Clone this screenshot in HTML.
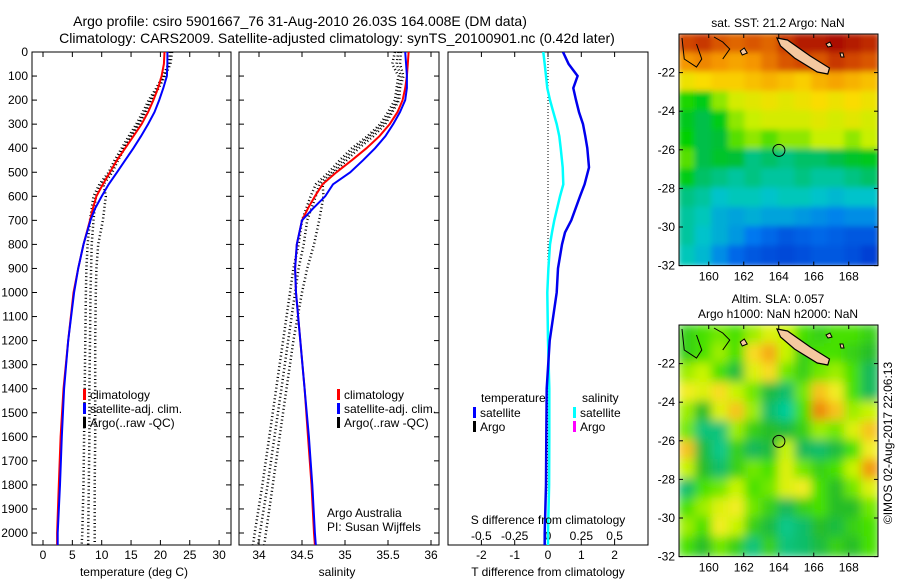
<!DOCTYPE html>
<html><head><meta charset="utf-8">
<style>
html,body{margin:0;padding:0;background:#fff;}
svg{display:block;font-family:"Liberation Sans",sans-serif;}
text{fill:#000;}
</style></head>
<body>
<svg id="fig" width="900" height="580" viewBox="0 0 900 580" xmlns="http://www.w3.org/2000/svg">
<defs>
<clipPath id="cp1"><rect x="32" y="52" width="199" height="493"/></clipPath>
<clipPath id="cp2"><rect x="239" y="52" width="200" height="493"/></clipPath>
<clipPath id="cp3"><rect x="448" y="52" width="200" height="493"/></clipPath>
<clipPath id="cpm1"><rect x="679" y="34" width="199" height="232"/></clipPath>
<clipPath id="cpm2"><rect x="679" y="325" width="199" height="232"/></clipPath>
<filter id="blur1" x="-5%" y="-5%" width="110%" height="110%"><feGaussianBlur stdDeviation="3"/></filter>
<filter id="blur2" x="-5%" y="-5%" width="110%" height="110%"><feGaussianBlur stdDeviation="5"/></filter>
</defs>
<text x="300" y="26" font-size="14" text-anchor="middle">Argo profile: csiro 5901667_76 31-Aug-2010 26.03S 164.008E (DM data)</text>
<text x="337" y="43" font-size="14" text-anchor="middle">Climatology: CARS2009. Satellite-adjusted climatology: synTS_20100901.nc (0.42d later)</text>
<g id="g1"></g>
<g id="g2"></g>
<g id="g3"></g>
<g id="m1"></g>
<g id="m2"></g>
<text transform="translate(892,443) rotate(-90)" font-size="12" text-anchor="middle">©IMOS 02-Aug-2017 22:06:13</text>
</svg>
<script>
// ---------- data ----------
const climDepth = [0,50,100,150,200,250,300,350,400,450,500,550,600,650,700,800,900,1000,1200,1400,1600,1800,2000,2050];
const climT = [20.7,20.6,20.2,19.6,18.8,17.9,16.8,15.4,14.0,12.6,11.4,10.2,9.1,8.5,8.0,6.9,6.0,5.2,4.3,3.5,3.0,2.7,2.4,2.4];
const satT  = [21.2,21.2,21.1,20.5,19.8,19.0,17.9,16.7,15.4,14.0,12.6,11.2,10.0,8.9,8.1,6.9,6.0,5.3,4.3,3.6,3.2,2.9,2.5,2.5];
const climS = [35.74,35.73,35.72,35.70,35.67,35.61,35.52,35.40,35.25,35.08,34.90,34.74,34.65,34.57,34.50,34.44,34.42,34.43,34.48,34.53,34.57,34.61,34.64,34.65];
const satS  = [35.70,35.71,35.72,35.72,35.70,35.64,35.56,35.47,35.35,35.21,35.06,34.86,34.77,34.63,34.50,34.44,34.42,34.43,34.48,34.53,34.58,34.62,34.65,34.66];
const argoDepth = [0,50,100,150,200,250,300,350,400,450,500,550,600,700,800,900,1000,1200,1400,1600,1800,2000,2050];
const argoT1 = [21.6,21.4,20.4,19.3,18.0,17.0,15.9,14.6,13.4,12.2,11.2,9.6,8.6,8.0,7.6,7.4,7.3,7.2,7.1,7.0,6.9,6.7,6.6];
const argoT2 = [21.8,21.5,20.6,19.5,18.3,17.3,16.2,14.9,13.7,12.5,11.5,9.9,9.0,8.6,8.3,8.2,8.1,8.0,7.9,7.9,7.8,7.7,7.7];
const argoT3 = [22.0,21.7,20.8,19.7,18.5,17.5,16.4,15.1,13.9,12.8,11.8,10.3,10.7,10.2,9.4,9.1,9.0,8.9,8.9,8.9,8.8,8.8,8.8];
const argoS1 = [35.58,35.55,35.62,35.60,35.58,35.50,35.41,35.26,35.08,34.94,34.81,34.66,34.60,34.50,34.46,34.40,34.36,34.28,34.20,34.12,34.04,33.95,33.93];
const argoS2 = [35.62,35.60,35.65,35.62,35.61,35.53,35.44,35.29,35.12,34.98,34.85,34.70,34.66,34.56,34.52,34.46,34.42,34.34,34.26,34.18,34.10,34.01,33.99];
const argoS3 = [35.65,35.64,35.68,35.64,35.63,35.55,35.47,35.33,35.16,35.02,34.88,34.74,34.75,34.70,34.64,34.56,34.50,34.40,34.32,34.24,34.16,34.08,34.06];
const diffDepth = [0,50,100,150,200,250,300,350,400,480,550,600,700,750,800,900,1000,1200,1400,1600,1800,2000,2050];
const diffT = [0.45,0.62,0.89,0.76,0.84,0.93,1.05,1.12,1.18,1.23,1.10,0.96,0.70,0.51,0.42,0.30,0.26,0.05,-0.04,-0.05,-0.06,-0.10,-0.10];
const diffS = [-0.035,-0.025,-0.015,-0.005,0.015,0.04,0.065,0.085,0.095,0.11,0.115,0.09,0.047,0.03,0.015,0.003,-0.005,0.0,0.01,0.01,0.008,0.0,0.0];
const tTicks = [0,5,10,15,20,25,30];
const sTicks = [34,34.5,35,35.5,36];
const dTTicks = [-2,-1,0,1,2];
const dSTicks = ["-0.5","-0.25","0","0.25","0.5"];
const depthTicks = [0,100,200,300,400,500,600,700,800,900,1000,1100,1200,1300,1400,1500,1600,1700,1800,1900,2000];
const lonTicks = [160,162,164,166,168];
const latTicks = [22,24,26,28,30,32];
const sstGrid = [
[23.5,23.6,23.4,23.3,23.4,23.3,23.6,23.8,23.8,23.9,23.8,23.7],
[23.0,23.1,23.0,22.9,23.0,23.2,23.4,23.5,23.4,23.6,23.5,23.4],
[22.4,22.5,22.6,22.6,22.7,22.8,22.7,22.6,22.8,22.9,22.8,22.7],
[21.8,21.6,22.0,22.2,22.3,22.4,22.3,22.4,22.5,22.4,22.5,22.4],
[21.5,21.2,21.6,22.0,22.1,22.2,22.2,22.2,22.3,22.2,22.3,22.2],
[21.7,21.2,21.3,21.9,22.0,21.9,22.0,22.0,22.1,22.1,22.0,22.1],
[21.9,21.2,21.4,21.3,21.0,21.1,21.0,21.1,21.1,21.2,21.4,21.5],
[21.6,21.1,21.0,20.9,21.0,20.9,20.9,21.0,20.9,20.9,21.0,21.1],
[21.0,20.9,20.7,20.8,20.8,20.7,20.8,20.8,20.7,20.6,20.7,20.7],
[20.9,20.8,20.5,20.4,20.5,20.4,20.4,20.3,20.2,20.1,20.2,20.2],
[20.9,20.7,20.5,20.3,20.0,19.8,19.6,19.7,19.8,19.7,19.6,19.6],
[20.8,20.6,20.2,19.8,19.6,19.5,19.4,19.5,19.6,19.6,19.5,19.3]];
const slaGrid = [
[0.02,0.03,0.04,0.03,0.05,0.07,0.06,0.03,0.02,0.03,0.03,0.02],
[0.02,0.03,0.05,0.03,0.09,0.11,0.06,0.02,0.03,0.03,0.02,0.01],
[0.05,0.06,0.03,0.00,0.07,0.09,0.04,0.02,0.04,0.05,0.03,-0.01],
[0.08,0.07,0.09,0.06,0.04,0.00,-0.02,0.04,0.10,0.08,0.03,-0.01],
[0.05,0.01,0.07,0.10,0.05,-0.02,-0.05,0.03,0.13,0.10,0.05,0.06],
[0.04,-0.03,-0.03,0.05,0.02,0.01,0.00,0.02,0.05,0.04,0.07,0.10],
[0.10,0.00,-0.04,0.02,-0.01,0.00,0.06,-0.01,-0.02,0.00,0.03,0.08],
[0.06,0.01,-0.02,0.02,0.04,0.03,0.07,0.04,0.02,0.03,0.06,0.12],
[-0.02,0.03,0.04,0.06,0.03,0.04,0.07,0.08,0.03,0.01,0.04,0.07],
[0.03,0.05,0.07,0.08,0.04,0.02,-0.01,0.02,0.03,0.01,0.01,0.04],
[0.05,0.03,0.08,0.06,0.02,0.00,-0.04,-0.02,0.01,0.00,0.02,0.03],
[0.03,0.01,0.04,0.02,-0.03,0.02,-0.03,-0.02,0.00,0.02,0.01,0.03]];

// ---------- helpers ----------
const NS="http://www.w3.org/2000/svg";
function mk(parent,tag,attrs,txt){const e=document.createElementNS(NS,tag);for(const k in attrs)e.setAttribute(k,attrs[k]);if(txt!==undefined)e.textContent=txt;parent.appendChild(e);return e;}
const yD = d => 52 + d*0.2405;
const xT = v => 43 + v*5.87;
const xS = v => 259 + (v-34)*86;
const xDT = v => 548 + v*33.3;
const xDS = v => 548 + v*133.3;
function pathOf(depths, vals, fx){return depths.map((d,i)=>(i?'L':'M')+fx(vals[i]).toFixed(1)+','+yD(d).toFixed(1)).join(' ');}

function frame(g,x0,w,name){
  const r=mk(g,'rect',{x:x0,y:52,width:w,height:493,fill:'none',stroke:'#000','stroke-width':1});
  
  
  depthTicks.forEach(d=>{
    mk(g,'line',{x1:x0,x2:x0+5,y1:yD(d),y2:yD(d),stroke:'#000'});
    mk(g,'line',{x1:x0+w-5,x2:x0+w,y1:yD(d),y2:yD(d),stroke:'#000'});
  });
}
function xticks(g,vals,fx,labels,ly){
  vals.forEach((v,i)=>{
    const x=fx(v);
    mk(g,'line',{x1:x,x2:x,y1:52,y2:57,stroke:'#000'});
    mk(g,'line',{x1:x,x2:x,y1:540,y2:545,stroke:'#000'});
    if(labels){const t=mk(g,'text',{x:x,y:ly,'font-size':12,'text-anchor':'middle'},labels[i]);
      
      }
  });
}
function line(g,d,stroke,w,clip,name,dash){
  const p=mk(g,'path',{d:d,fill:'none',stroke:stroke,'stroke-width':w,'clip-path':'url(#'+clip+')'});
  if(dash)p.setAttribute('stroke-dasharray',dash);
  
  
  return p;
}
function legendEntry(g,x,y,color,label){
  mk(g,'rect',{x:x,y:y-9,width:3,height:11,fill:color});
  const t=mk(g,'text',{x:x+7,y:y+1,'font-size':12},label);
  
  
}

// ---------- panel 1: temperature ----------
const g1=document.getElementById('g1');
frame(g1,32,199,'temperature');
depthTicks.forEach(d=>{const t=mk(g1,'text',{x:28,y:yD(d)+4,'font-size':12,'text-anchor':'end'},String(d));
  
  });
xticks(g1,tTicks,xT,tTicks.map(String),559);
[argoT1,argoT2,argoT3].forEach(a=>line(g1,pathOf(argoDepth,a,xT),'#000',2.5,'cp1','argo-temperature','1 2.6'));
line(g1,pathOf(climDepth,climT,xT),'#f00',2,'cp1','climatology-temperature');
line(g1,pathOf(climDepth,satT,xT),'#00f',2,'cp1','satellite-temperature');
legendEntry(g1,83,398,'#f00','climatology');
legendEntry(g1,83,412,'#00f','satellite-adj. clim.');
legendEntry(g1,83,426,'#000','Argo(..raw -QC)');
mk(g1,'text',{x:134,y:576,'font-size':12,'text-anchor':'middle'},'temperature (deg C)');

// ---------- panel 2: salinity ----------
const g2=document.getElementById('g2');
frame(g2,239,200,'salinity');
xticks(g2,sTicks,xS,sTicks.map(String),559);
[argoS1,argoS2,argoS3].forEach(a=>line(g2,pathOf(argoDepth,a,xS),'#000',2.5,'cp2','argo-salinity','1 2.6'));
line(g2,pathOf(climDepth,climS,xS),'#f00',2,'cp2','climatology-salinity');
line(g2,pathOf(climDepth,satS,xS),'#00f',2,'cp2','satellite-salinity');
legendEntry(g2,337,398,'#f00','climatology');
legendEntry(g2,337,412,'#00f','satellite-adj. clim.');
legendEntry(g2,337,426,'#000','Argo(..raw -QC)');
mk(g2,'text',{x:327,y:517,'font-size':12},'Argo Australia');
mk(g2,'text',{x:327,y:531,'font-size':12},'PI: Susan Wijffels');
mk(g2,'text',{x:337,y:576,'font-size':12,'text-anchor':'middle'},'salinity');

// ---------- panel 3: differences ----------
const g3=document.getElementById('g3');
mk(g3,'rect',{x:448,y:52,width:200,height:493,fill:'none',stroke:'#000'});
xticks(g3,dTTicks,xDT,dTTicks.map(String),559);
dSTicks.forEach(v=>{const t=mk(g3,'text',{x:xDS(parseFloat(v)),y:540,'font-size':12,'text-anchor':'middle'},v);
  
  });
mk(g3,'line',{x1:548,x2:548,y1:52,y2:545,stroke:'#000','stroke-dasharray':'1 2'});
line(g3,pathOf(diffDepth,diffS,xDS),'#00ffff',2.5,'cp3','salinity-difference');
line(g3,pathOf(diffDepth,diffT,xDT),'#0000ee',2.5,'cp3','temperature-difference');
mk(g3,'text',{x:481,y:402,'font-size':12},'temperature');
mk(g3,'text',{x:582,y:402,'font-size':12},'salinity');
legendEntry(g3,473,416,'#00f','satellite');
legendEntry(g3,473,430,'#000','Argo');
legendEntry(g3,573,416,'#00ffff','satellite');
legendEntry(g3,573,430,'#ff00ff','Argo');
mk(g3,'text',{x:548,y:524,'font-size':12,'text-anchor':'middle'},'S difference from climatology');
mk(g3,'text',{x:548,y:576,'font-size':12,'text-anchor':'middle'},'T difference from climatology');

// ---------- maps ----------
const lonX = lon => 679 + (lon-158.3)*17.5;
function jet(v){
  const t=Math.max(0,Math.min(1,(v-19)/5));
  const stops=[[0,[0,40,200]],[0.2,[0,120,240]],[0.35,[0,200,200]],[0.45,[0,190,60]],[0.55,[0,210,0]],[0.62,[200,240,0]],[0.7,[250,220,0]],[0.8,[245,150,0]],[0.9,[210,70,0]],[1,[160,0,0]]];
  return interp(stops,t);
}
function slaMap(v){
  const t=Math.max(0,Math.min(1,(v+0.06)/0.2));
  const stops=[[0,[0,210,170]],[0.25,[20,185,90]],[0.35,[40,190,40]],[0.45,[70,225,0]],[0.6,[200,245,0]],[0.72,[250,235,40]],[0.85,[245,170,20]],[1,[235,120,0]]];
  return interp(stops,t);
}
function interp(stops,t){
  for(let i=1;i<stops.length;i++){if(t<=stops[i][0]){const a=stops[i-1],b=stops[i],f=(t-a[0])/(b[0]-a[0]);
    const c=a[1].map((x,k)=>Math.round(x+(b[1][k]-x)*f));return 'rgb('+c.join(',')+')';}}
  const c=stops[stops.length-1][1];return 'rgb('+c.join(',')+')';
}
function drawMap(id,top,grid,cmap,clip,blurId,titles){
  const g=document.getElementById(id);
  const latY = lat => top + (lat-20)*19.3;
  const cg=mk(g,'g',{'clip-path':'url(#'+clip+')'});
  const hg=mk(cg,'g',{filter:'url(#'+blurId+')'});
  const nc=grid[0].length,dl=(169.7-158.3)/nc;
  grid.forEach((row,r)=>row.forEach((v,c)=>{
    const x=lonX(158.3+c*dl), y=latY(20+r);
    const cell=mk(hg,'rect',{x:(x-1).toFixed(1),y:(y-1).toFixed(1),width:(dl*17.5+2).toFixed(1),height:21.3,fill:cmap(v)});
    
    
  }));
  const nc1=mk(cg,'path',{d:`M${lonX(163.9)},${top+4} L${lonX(164.5)},${top+6} L${lonX(165.8)},${top+22} L${lonX(166.9)},${top+34} L${lonX(166.8)},${top+40} L${lonX(166.2)},${top+38} L${lonX(164.9)},${top+24} L${lonX(164.1)},${top+12} Z`,fill:'#f5c8a0',stroke:'#000','stroke-width':1.2});
  
  
  mk(cg,'path',{d:`M${lonX(158.3)+3},${top+4} L${lonX(158.6)},${top+25} L${lonX(159.3)},${top+33} L${lonX(159.6)},${top+25} L${lonX(159.3)},${top+10} M${lonX(160.3)},${top+3} L${lonX(160.8)},${top+8} L${lonX(161.2)},${top+15} L${lonX(160.8)},${top+25}`,fill:'none',stroke:'#000','stroke-width':1});
  mk(cg,'path',{d:`M${lonX(161.8)},${top+17} l4,-3 l3,5 l-5,2 z M${lonX(166.7)},${top+10} l4,-2 l2,4 l-4,1 z M${lonX(167.5)},${top+19} l3,0 l1,4 l-3,0 z`,fill:'#f5c8a0',stroke:'#000','stroke-width':1});
  const circ=mk(g,'circle',{cx:lonX(164.008),cy:latY(26.03),r:6,fill:'none',stroke:'#000','stroke-width':1});
  
  
  mk(g,'rect',{x:679,y:top,width:199,height:latY(32)-top,fill:'none',stroke:'#000'});
  lonTicks.forEach(l=>{const x=lonX(l);
    mk(g,'line',{x1:x,x2:x,y1:top,y2:top+4,stroke:'#000'});
    mk(g,'line',{x1:x,x2:x,y1:latY(32)-4,y2:latY(32),stroke:'#000'});
    const t=mk(g,'text',{x:x,y:latY(32)+15,'font-size':12,'text-anchor':'middle'},String(l));
    
    });
  latTicks.forEach(l=>{const y=latY(l);
    mk(g,'line',{x1:679,x2:683,y1:y,y2:y,stroke:'#000'});
    mk(g,'line',{x1:874,x2:878,y1:y,y2:y,stroke:'#000'});
    const t=mk(g,'text',{x:675,y:y+4,'font-size':12,'text-anchor':'end'},'-'+l);
    
    });
  titles.forEach((s,i)=>{const t=mk(g,'text',{x:778,y:top-22+15*i+(titles.length===1?15:0),'font-size':12,'text-anchor':'middle'},s);
    
    });
}
drawMap('m1',34,sstGrid,jet,'cpm1','blur1',['sat. SST: 21.2 Argo: NaN']);
drawMap('m2',325,slaGrid,slaMap,'cpm2','blur2',['Altim. SLA: 0.057','Argo h1000: NaN h2000: NaN']);
</script>
</body></html>
